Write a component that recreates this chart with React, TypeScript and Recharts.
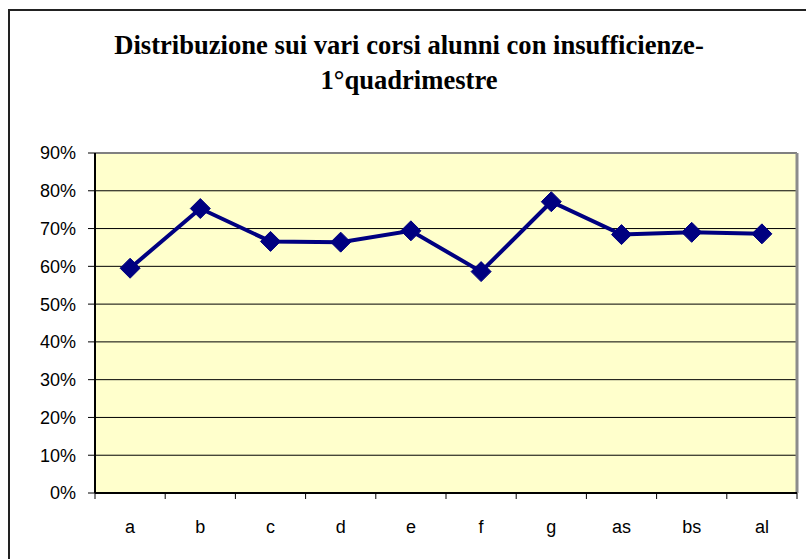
import React from 'react';
import { LineChart, Line, XAxis, YAxis, CartesianGrid, ReferenceLine } from 'recharts';

const categories = ['a', 'b', 'c', 'd', 'e', 'f', 'g', 'as', 'bs', 'al'];
const values = [0.595, 0.753, 0.666, 0.664, 0.694, 0.586, 0.771, 0.684, 0.69, 0.686];
const yTicks = [0, 0.1, 0.2, 0.3, 0.4, 0.5, 0.6, 0.7, 0.8, 0.9];
const boundaryTicks = [0, 1, 2, 3, 4, 5, 6, 7, 8, 9, 10];
const titleLines = ['Distribuzione sui vari corsi alunni con insufficienze-', '1°quadrimestre'];

const data = categories.map((name, i) => ({ name, v: values[i], pos: i + 0.5 }));

const Diamond = (props: any) => {
  const { cx, cy } = props;
  if (cx == null || cy == null) return <g />;
  const r = 10;
  return (
    <polygon
      points={`${cx},${cy - r} ${cx + r},${cy} ${cx},${cy + r} ${cx - r},${cy}`}
      fill="#000080"
      stroke="#000080"
    />
  );
};

export default function App() {
  return (
    <div
      style={{
        position: 'absolute',
        left: 0,
        top: 0,
        width: 806,
        height: 559,
        overflow: 'hidden',
        background: '#fff',
      }}
    >
      <div
        style={{
          position: 'absolute',
          left: 8,
          top: 9,
          width: 820,
          height: 580,
          border: '2px solid #222',
          boxSizing: 'border-box',
        }}
      />
      <svg
        width={806}
        height={120}
        style={{ position: 'absolute', left: 0, top: 0 }}
      >
        {titleLines.map((t, i) => (
          <text
            key={i}
            x={409}
            y={54 + i * 35}
            textAnchor="middle"
            fontFamily="'Liberation Serif', 'Times New Roman', serif"
            fontWeight="bold"
            fontSize={26.6}
            fill="#000"
          >
            {t}
          </text>
        ))}
      </svg>
      <div style={{ position: 'absolute', left: 0, top: 0 }}>
        <LineChart
          width={806}
          height={559}
          data={data}
          margin={{ top: 153, right: 9, bottom: 0, left: 0 }}
        >
          <CartesianGrid
            vertical={false}
            stroke="#000"
            strokeWidth={1}
            fill="#FFFFCC"
            fillOpacity={1}
          />
          <XAxis
            xAxisId="aEdges"
            dataKey="pos"
            type="number"
            domain={[0, 10]}
            ticks={boundaryTicks}
            interval={0}
            tickFormatter={() => ''}
            tickSize={6}
            tickMargin={0}
            height={1}
            axisLine={{ stroke: '#000', strokeWidth: 2 }}
            tickLine={{ stroke: '#000', strokeWidth: 1 }}
            allowDataOverflow
          />
          <XAxis
            xAxisId="bLabels"
            dataKey="name"
            type="category"
            height={65}
            padding={{ left: 35, right: 35 }}
            tickLine={false}
            axisLine={false}
            tickSize={0}
            tickMargin={26}
            interval={0}
            tick={{ fill: '#000', fontSize: 18, fontFamily: "'Liberation Sans', Arial, sans-serif" }}
          />
          <YAxis
            width={95}
            domain={[0, 0.9]}
            ticks={yTicks}
            interval={0}
            tickFormatter={(v: number) => `${Math.round(v * 100)}%`}
            tickSize={7}
            tickMargin={12}
            axisLine={{ stroke: '#000', strokeWidth: 2 }}
            tickLine={{ stroke: '#000', strokeWidth: 1 }}
            tick={{ fill: '#000', fontSize: 18, fontFamily: "'Liberation Sans', Arial, sans-serif" }}
          />
          <ReferenceLine xAxisId="aEdges" y={0.9} stroke="#808080" strokeWidth={2} />
          <ReferenceLine xAxisId="aEdges" x={10} stroke="#8c8c8c" strokeWidth={3} />
          <Line
            xAxisId="aEdges"
            dataKey="v"
            stroke="#000080"
            strokeWidth={4}
            dot={<Diamond />}
            activeDot={false}
            isAnimationActive={false}
          />
          <Line
            xAxisId="bLabels"
            dataKey="v"
            stroke="none"
            dot={false}
            activeDot={false}
            legendType="none"
            isAnimationActive={false}
          />
        </LineChart>
      </div>
    </div>
  );
}
